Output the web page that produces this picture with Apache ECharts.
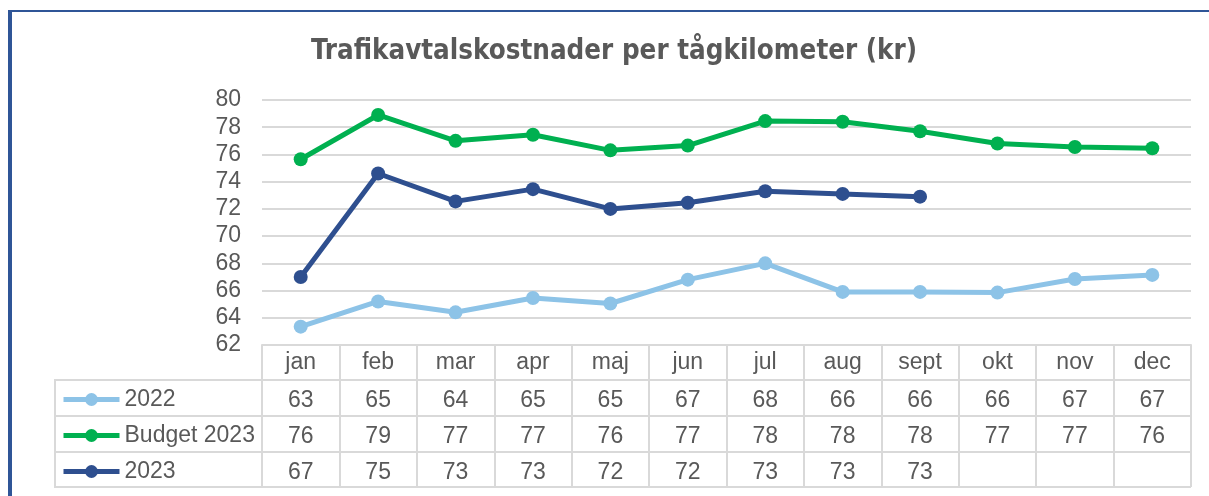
<!DOCTYPE html>
<html>
<head>
<meta charset="utf-8">
<script src="https://cdn.jsdelivr.net/npm/echarts@6/dist/echarts.min.js"></script>
<style>
  html, body { margin: 0; padding: 0; background: #fff; }
  #main { width: 1209px; height: 496px; }
</style>
</head>
<body>
<div id="main"></div>
<script>
// månader och serier
var months = ['jan', 'feb', 'mar', 'apr', 'maj', 'jun', 'jul', 'aug', 'sept', 'okt', 'nov', 'dec'];
var v2022 = [63.35, 65.2, 64.4, 65.45, 65.05, 66.8, 68.0, 65.9, 65.9, 65.85, 66.85, 67.15];
var budget2023 = [75.65, 78.9, 77.0, 77.45, 76.3, 76.65, 78.45, 78.4, 77.7, 76.8, 76.55, 76.45];
var v2023 = [67.0, 74.6, 72.55, 73.45, 72.0, 72.45, 73.3, 73.1, 72.9, null, null, null];
var seriesNames = ['2022', 'Budget 2023', '2023'];
var seriesColors = ['#8DC3E7', '#00B050', '#2E4F8F'];

var textColor = '#595959';
var lineGray = '#D9D9D9';
var font = 'Liberation Sans';

// avrundade värden till datatabellen
function rowLabels(arr) {
  return arr.map(function (v) { return v == null ? '' : String(Math.round(v)); });
}

var gridLeft = 262, gridRight = 18, gridTop = 100, gridBottom = 151;
var rowH = 36;

function rowAxis(arr, idx) {
  return {
    type: 'category',
    gridIndex: 0,
    position: 'bottom',
    offset: rowH * idx + 1,
    data: rowLabels(arr),
    axisLine: { show: false },
    axisTick: { show: false },
    axisLabel: { interval: 0, margin: 7, color: textColor, fontSize: 23, fontFamily: font }
  };
}

var chart = echarts.init(document.getElementById('main'));

var option = {
  animation: false,
  title: {
    text: 'Trafikavtalskostnader per tågkilometer (kr)',
    left: 614,
    textAlign: 'center',
    top: 38,
    padding: 0,
    textStyle: {
      color: textColor, fontSize: 27.5, fontWeight: 'bold',
      fontFamily: "'DejaVu Sans Condensed', 'Liberation Sans', sans-serif"
    }
  },
  legend: {
    orient: 'vertical',
    left: 61,
    top: 388,
    padding: 0,
    itemWidth: 56,
    itemHeight: 16,
    itemGap: 13,
    data: seriesNames,
    lineStyle: { width: 5 },
    textStyle: { color: textColor, fontSize: 23, fontFamily: font }
  },
  grid: { left: gridLeft, right: gridRight, top: gridTop, bottom: gridBottom },
  xAxis: [
    {
      type: 'category',
      data: months,
      boundaryGap: true,
      axisLine: { lineStyle: { color: lineGray, width: 2 } },
      axisTick: { show: true, interval: 0, length: rowH * 4 - 2, lineStyle: { color: lineGray, width: 2 } },
      axisLabel: { interval: 0, margin: 6, color: textColor, fontSize: 23, fontFamily: font }
    },
    rowAxis(v2022, 1),
    rowAxis(budget2023, 2),
    rowAxis(v2023, 3)
  ],
  yAxis: {
    type: 'value',
    min: 62,
    max: 80,
    interval: 2,
    axisLine: { show: false },
    axisTick: { show: false },
    axisLabel: { margin: 21, color: textColor, fontSize: 23, fontFamily: font },
    splitLine: { lineStyle: { color: lineGray, width: 2 } }
  },
  series: [v2022, budget2023, v2023].map(function (arr, i) {
    return {
      name: seriesNames[i],
      type: 'line',
      data: arr,
      symbol: 'circle',
      symbolSize: 14,
      color: seriesColors[i],
      lineStyle: { width: 5, color: seriesColors[i] },
      itemStyle: { color: seriesColors[i] }
    };
  }),
  graphic: [
    // ram
    { type: 'rect', shape: { x: 8, y: 10, width: 4, height: 486 }, style: { fill: '#2F5597' } },
    { type: 'rect', shape: { x: 8, y: 10, width: 1201, height: 2 }, style: { fill: '#2F5597' } },
    // tabellinjer
    { type: 'rect', shape: { x: 55, y: 379, width: 1136, height: 2 }, style: { fill: lineGray } },
    { type: 'rect', shape: { x: 55, y: 415, width: 1136, height: 2 }, style: { fill: lineGray } },
    { type: 'rect', shape: { x: 55, y: 451, width: 1136, height: 2 }, style: { fill: lineGray } },
    { type: 'rect', shape: { x: 55, y: 486, width: 1136, height: 2 }, style: { fill: lineGray } },
    { type: 'rect', shape: { x: 54, y: 379, width: 2, height: 109 }, style: { fill: lineGray } }
  ]
};

chart.setOption(option);
</script>
</body>
</html>
